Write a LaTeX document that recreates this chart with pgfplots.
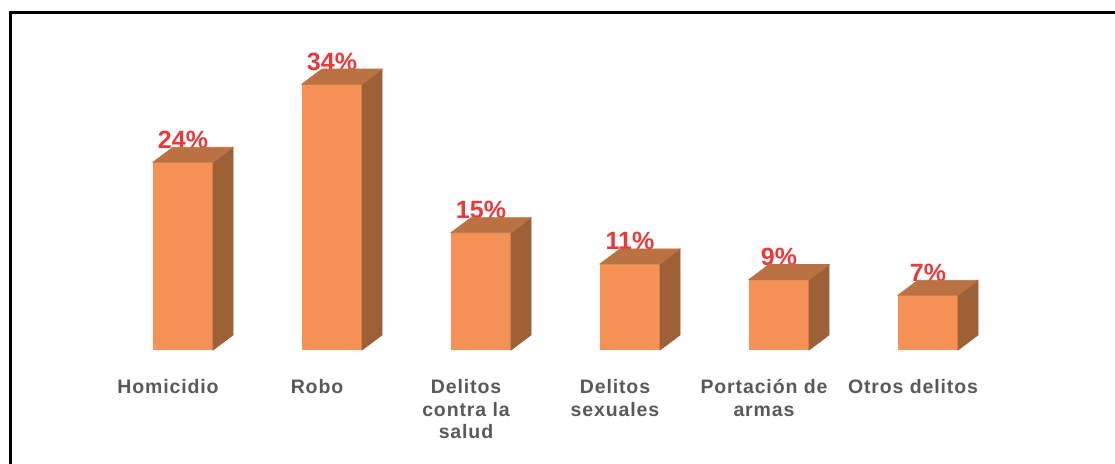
\documentclass[border=0pt]{standalone}
\usepackage{pgfplots}
\pgfplotsset{compat=1.18}
\usepackage{pgfplotstable}
\usepackage{fontspec}
\setmainfont{Liberation Sans}
\newfontfamily\labelfont[LetterSpace=4.5]{Liberation Sans}
\definecolor{barfront}{RGB}{245,145,85}
\definecolor{barside}{RGB}{158,96,54}
\definecolor{bartop}{RGB}{186,114,66}
\definecolor{pctred}{RGB}{236,56,56}
\definecolor{labelgray}{RGB}{89,89,89}
\pgfplotstableread{
x v
0 24
1 34
2 15
3 11
4 9
5 7
}\datatable
\begin{document}
\begin{tikzpicture}
\useasboundingbox (0,0) rectangle (557.5pt,232pt);
\draw[line width=1.5pt] (5pt,0pt) -- (5pt,225.5pt) -- (557.5pt,225.5pt);
\begin{axis}[
  at={(9.5pt,57pt)}, anchor=south west,
  x=74.5pt, y=3.91pt,
  xmin=-1, xmax=5.8, ymin=0, ymax=40,
  clip=false,
  axis line style={draw=none},
  major tick length=0pt,
  ytick=\empty,
  xtick={0,...,5},
  xticklabels={Homicidio,Robo,{Delitos\\contra la\\salud},{Delitos\\sexuales},{Portación de\\armas},Otros delitos},
  xticklabel style={font=\labelfont\bfseries\fontsize{9.75}{11.25}\selectfont, text=labelgray, align=center, anchor=north, inner sep=0pt, yshift=-14.5pt},
]
\addplot[ybar, bar width=30pt, bar shift=7.5pt, fill=barfront, draw=none,
  nodes near coords={\pgfplotspointmeta\%},
  point meta=explicit symbolic,
  every node near coord/.append style={font=\bfseries\fontsize{12.5}{14}\selectfont, text=pctred, anchor=base, xshift=7.5pt, yshift=7pt, inner sep=0pt}
] table[x=x, y=v, meta=v] {\datatable};
\addplot[only marks, scatter, mark=*, mark size=0pt,
  visualization depends on={y \as \rawy},
  scatter/@pre marker code/.code={%
    \fill[barside] (22.5pt,0pt) -- (32.5pt,7.5pt) -- (32.5pt,{7.5pt-\rawy*3.91pt}) -- (22.5pt,{-\rawy*3.91pt}) -- cycle;
    \fill[bartop] (-7.5pt,0pt) -- (22.5pt,0pt) -- (32.5pt,7.5pt) -- (2.5pt,7.5pt) -- cycle;
  },
  scatter/@post marker code/.code={}
] table[x=x, y=v] {\datatable};
\end{axis}
\end{tikzpicture}
\end{document}
